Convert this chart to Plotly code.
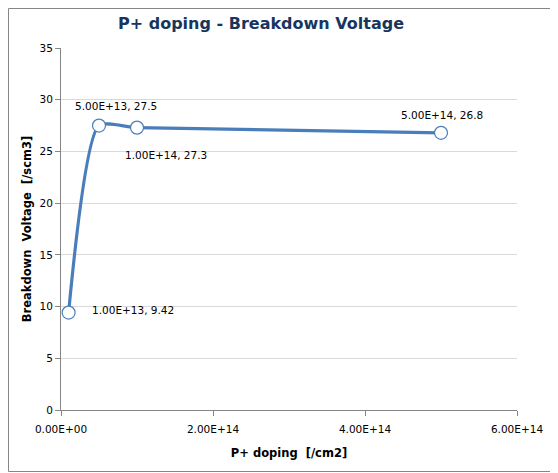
import plotly.graph_objects as go

doping = [1e13, 5e13, 1e14, 5e14]
voltage = [9.42, 27.5, 27.3, 26.8]
x_ticks = [0, 2e14, 4e14, 6e14]
x_tick_text = ["0.00E+00", "2.00E+14", "4.00E+14", "6.00E+14"]
y_ticks = [0, 5, 10, 15, 20, 25, 30, 35]

# label offsets in pixels (style only)
label_dx = [21, 17, 29, 1]
label_dy = [3, 20, -27, 18]
label_anchor = ["left", "center", "center", "center"]

labels = [f"{x:.2E}, {y:g}" for x, y in zip(doping, voltage)]

# page has an 8px body margin; compensate so the plot lands where the reference has it
OFF = 8
W, H = 558 - OFF, 473 - OFF
ml, mr, mt, mb = 61 - OFF, 41, 48 - OFF, 63
pw, ph = W - ml - mr, H - mt - mb
FONT = "DejaVu Sans, Verdana"

fig = go.Figure()
fig.add_trace(go.Scatter(
    x=doping, y=voltage, mode="lines+markers",
    line=dict(color="#4A7EBB", width=3.2, shape="spline", smoothing=0.6),
    marker=dict(symbol="circle", size=13, color="white", line=dict(color="#4A7EBB", width=1.2)),
    cliponaxis=False, showlegend=False,
))

annotations = []
for x, y, t, dx, dy, a in zip(doping, voltage, labels, label_dx, label_dy, label_anchor):
    annotations.append(dict(x=x, y=y, text=t, showarrow=False, xanchor=a, yanchor="middle",
                            xshift=dx, yshift=dy,
                            font=dict(family=FONT, size=10.5, color="#000000")))

fig.update_layout(
    width=W, height=H,
    margin=dict(l=ml, r=mr, t=mt, b=mb, autoexpand=False),
    paper_bgcolor="white", plot_bgcolor="white",
    font=dict(family=FONT, size=11, color="#000000"),
    title=dict(text="<b>P+ doping - Breakdown Voltage</b>", x=(261 - OFF) / W, xanchor="center",
               xref="container", yref="container", y=1 - (23 - OFF) / H, yanchor="middle",
               font=dict(family=FONT, size=16, color="#17365D")),
    xaxis=dict(range=[0, 6e14], tickvals=x_ticks, ticktext=x_tick_text, automargin=False,
               showgrid=False, zeroline=False, showline=True, linecolor="#868686", linewidth=1,
               ticks="outside", ticklen=5, tickcolor="#868686", ticklabelstandoff=4,
               tickfont=dict(size=10.5),
               title=dict(text="<b>P+ doping  [/cm2]</b>", font=dict(size=11.5), standoff=15)),
    yaxis=dict(range=[0, 35], tickvals=y_ticks, automargin=False,
               showgrid=True, gridcolor="#D9D9D9", gridwidth=1, zeroline=False,
               showline=True, linecolor="#868686", linewidth=1,
               ticks="outside", ticklen=5, tickcolor="#868686",
               tickfont=dict(size=10.5),
               title=dict(text="<b>Breakdown  Voltage  [/scm3]</b>", font=dict(size=11.5), standoff=5)),
    annotations=annotations,
    shapes=[dict(type="rect", xref="paper", yref="paper",
                 x0=-(ml - 0.5) / pw, x1=1 + (mr - 1.5) / pw,
                 y0=-(mb - 1.5) / ph, y1=1 + (mt - 0.5) / ph,
                 line=dict(color="#868686", width=1), layer="below")],
)

fig.write_html("out.html")
